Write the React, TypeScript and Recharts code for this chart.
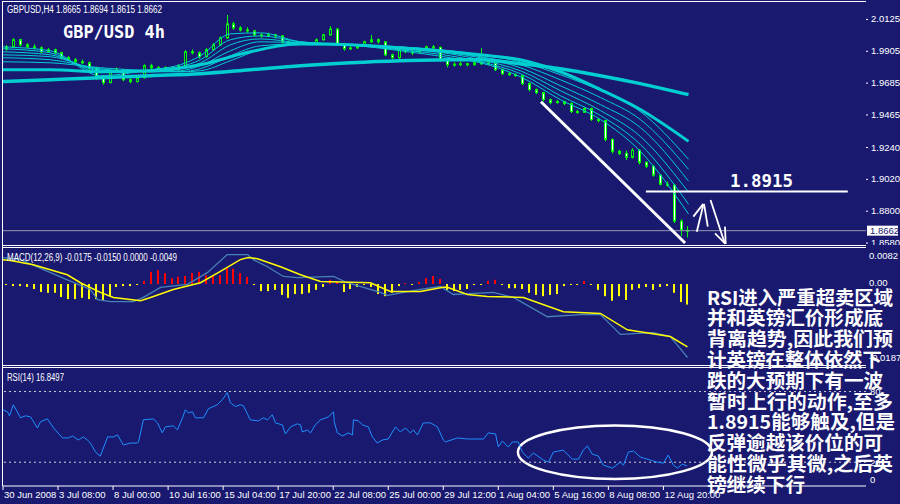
import React from 'react';
import { ComposedChart, Bar, Line, XAxis, YAxis, ReferenceLine, ReferenceArea } from 'recharts';

const BG = '#191970';
const CYAN = '#00ced1';
const FONT_SMALL = "'Liberation Sans Narrow', 'Liberation Sans', Arial, sans-serif";
const X_DOMAIN: [number, number] = [-1, 249.9];

// ---------- price candles (one candle per 2 H4 bars) ----------
const candleOpen = [
  1.9918, 1.9932, 1.9981, 1.9946, 1.9932, 1.9925, 1.9898, 1.9912, 1.9891, 1.9857,
  1.9843, 1.9829, 1.9822, 1.9788, 1.9719, 1.9685, 1.9760, 1.9774, 1.9705, 1.9692,
  1.9719, 1.9802, 1.9788, 1.9781, 1.9788, 1.9774, 1.9802, 1.9898, 1.9891, 1.9864,
  1.9912, 1.9946, 1.9994, 2.0091, 2.0063, 2.0049, 2.0042, 2.0015, 2.0008, 2.0015,
  2.0008, 1.9967, 1.9950, 1.9955, 1.9960, 1.9953, 1.9981, 2.0015, 2.0055, 1.9953,
  1.9919, 1.9925, 1.9939, 1.9967, 1.9981, 1.9967, 1.9877, 1.9857, 1.9912, 1.9890,
  1.9898, 1.9912, 1.9932, 1.9928, 1.9843, 1.9809, 1.9812, 1.9815, 1.9809, 1.9822,
  1.9815, 1.9822, 1.9774, 1.9747, 1.9740, 1.9733, 1.9678, 1.9637, 1.9616, 1.9568,
  1.9547, 1.9554, 1.9540, 1.9485, 1.9480, 1.9506, 1.9430, 1.9423, 1.9292, 1.9210,
  1.9196, 1.9169, 1.9217, 1.9134, 1.9107, 1.9045, 1.8983, 1.8976, 1.8728, 1.8665,
];
const candleHigh = [
  1.9945, 1.9992, 1.9988, 1.9958, 1.9950, 1.9935, 1.9925, 1.9920, 1.9898, 1.9870,
  1.9855, 1.9845, 1.9830, 1.9795, 1.9730, 1.9772, 1.9790, 1.9780, 1.9715, 1.9728,
  1.9812, 1.9815, 1.9800, 1.9798, 1.9795, 1.9812, 1.9910, 1.9915, 1.9900, 1.9925,
  1.9958, 2.0005, 2.0153, 2.0105, 2.0075, 2.0068, 2.0050, 2.0025, 2.0030, 2.0022,
  2.0012, 1.9975, 1.9968, 1.9970, 1.9966, 1.9990, 2.0022, 2.0075, 2.0062, 1.9960,
  1.9935, 1.9948, 1.9975, 2.0015, 1.9990, 1.9972, 1.9885, 1.9920, 1.9918, 1.9910,
  1.9920, 1.9940, 1.9945, 1.9935, 1.9850, 1.9825, 1.9830, 1.9822, 1.9830, 1.9925,
  1.9830, 1.9828, 1.9782, 1.9760, 1.9750, 1.9738, 1.9685, 1.9645, 1.9622, 1.9575,
  1.9565, 1.9560, 1.9548, 1.9495, 1.9515, 1.9512, 1.9440, 1.9428, 1.9300, 1.9222,
  1.9215, 1.9232, 1.9225, 1.9142, 1.9115, 1.9052, 1.9003, 1.8985, 1.8740, 1.8694,
];
const candleLow = [
  1.9905, 1.9925, 1.9935, 1.9925, 1.9915, 1.9888, 1.9890, 1.9880, 1.9845, 1.9835,
  1.9818, 1.9812, 1.9770, 1.9705, 1.9670, 1.9680, 1.9755, 1.9695, 1.9680, 1.9686,
  1.9712, 1.9775, 1.9770, 1.9772, 1.9765, 1.9768, 1.9795, 1.9880, 1.9850, 1.9858,
  1.9905, 1.9940, 1.9988, 2.0050, 2.0038, 2.0030, 2.0005, 1.9995, 2.0000, 1.9990,
  1.9955, 1.9940, 1.9945, 1.9948, 1.9942, 1.9948, 1.9975, 2.0010, 1.9945, 1.9905,
  1.9910, 1.9918, 1.9932, 1.9960, 1.9955, 1.9868, 1.9845, 1.9850, 1.9888, 1.9875,
  1.9890, 1.9905, 1.9918, 1.9830, 1.9790, 1.9795, 1.9800, 1.9798, 1.9802, 1.9808,
  1.9806, 1.9765, 1.9738, 1.9732, 1.9725, 1.9668, 1.9625, 1.9605, 1.9555, 1.9535,
  1.9540, 1.9530, 1.9475, 1.9470, 1.9475, 1.9420, 1.9410, 1.9280, 1.9195, 1.9185,
  1.9150, 1.9160, 1.9120, 1.9095, 1.9035, 1.8975, 1.8965, 1.8715, 1.8625, 1.8615,
];
const candleClose = [
  1.9932, 1.9981, 1.9946, 1.9932, 1.9925, 1.9898, 1.9912, 1.9891, 1.9857, 1.9843,
  1.9829, 1.9822, 1.9788, 1.9719, 1.9685, 1.9760, 1.9774, 1.9705, 1.9692, 1.9719,
  1.9802, 1.9788, 1.9781, 1.9788, 1.9774, 1.9802, 1.9898, 1.9891, 1.9864, 1.9912,
  1.9946, 1.9994, 2.0091, 2.0063, 2.0049, 2.0042, 2.0015, 2.0008, 2.0015, 2.0008,
  1.9967, 1.9953, 1.9955, 1.9960, 1.9953, 1.9981, 2.0015, 2.0055, 1.9953, 1.9919,
  1.9925, 1.9939, 1.9967, 1.9981, 1.9967, 1.9877, 1.9857, 1.9912, 1.9898, 1.9898,
  1.9912, 1.9932, 1.9928, 1.9843, 1.9809, 1.9812, 1.9815, 1.9809, 1.9822, 1.9815,
  1.9822, 1.9774, 1.9747, 1.9740, 1.9733, 1.9678, 1.9637, 1.9616, 1.9568, 1.9547,
  1.9554, 1.9540, 1.9485, 1.9480, 1.9506, 1.9430, 1.9423, 1.9292, 1.9210, 1.9196,
  1.9169, 1.9217, 1.9134, 1.9107, 1.9045, 1.8983, 1.8976, 1.8728, 1.8665, 1.8662,
];

// ---------- MACD histogram (same grid as candles) ----------
const macdHist = [
  -0.0002, -0.0005, -0.0005, -0.0007, -0.0012, -0.0019, -0.0021, -0.0021, -0.0031, -0.0036,
  -0.0036, -0.0033, -0.0036, -0.0036, -0.0038, -0.0029, -0.0007, -0.0005, -0.0005, -0.0002,
  0.0007, 0.0029, 0.0033, 0.0026, 0.0014, 0.0017, 0.0019, 0.0026, 0.0029, 0.0021,
  0.0019, 0.0021, 0.0040, 0.0036, 0.0026, 0.0017, -0.0002, -0.0017, -0.0017, -0.0014,
  -0.0026, -0.0033, -0.0024, -0.0024, -0.0021, -0.0014, -0.0007, 0.0010, 0.0005, -0.0019,
  -0.0012, -0.0007, -0.0002, -0.0007, -0.0024, -0.0029, -0.0021, -0.0005, 0.0002, -0.0002,
  0.0005, 0.0014, 0.0019, 0.0012, -0.0014, -0.0017, -0.0014, -0.0012, -0.0002, -0.0002,
  0.0007, 0.0010, -0.0002, -0.0010, -0.0010, -0.0012, -0.0021, -0.0026, -0.0029, -0.0026,
  -0.0024, -0.0005, -0.0002, -0.0002, 0.0007, -0.0002, -0.0014, -0.0029, -0.0040, -0.0029,
  -0.0038, -0.0014, -0.0010, -0.0007, -0.0014, -0.0007, -0.0005, -0.0021, -0.0043, -0.0049,
];

// ---------- moving averages (bar index, price) ----------
const thinBars = [-1, 12.8, 27.3, 41.9, 50.6, 56.4, 65.1, 73.8, 85.5, 100.0, 114.5, 129.1, 137.8, 149.4, 161.0, 172.7, 184.3, 198.3];
const ma1 = [1.9932, 1.9905, 1.9733, 1.9774, 1.9809, 1.9870, 2.0022, 2.0029, 1.9967, 1.9946, 1.9905, 1.9857, 1.9822, 1.9726, 1.9568, 1.9430, 1.9210, 1.8777];
const ma2 = [1.9919, 1.9891, 1.9754, 1.9767, 1.9795, 1.9843, 1.9981, 2.0008, 1.9967, 1.9946, 1.9912, 1.9870, 1.9829, 1.9747, 1.9595, 1.9458, 1.9258, 1.8845];
const ma3 = [1.9898, 1.9877, 1.9767, 1.9760, 1.9781, 1.9822, 1.9946, 1.9987, 1.9960, 1.9946, 1.9919, 1.9884, 1.9843, 1.9767, 1.9630, 1.9492, 1.9313, 1.8928];
const ma4 = [1.9877, 1.9864, 1.9774, 1.9760, 1.9767, 1.9802, 1.9905, 1.9967, 1.9960, 1.9946, 1.9925, 1.9891, 1.9857, 1.9788, 1.9664, 1.9533, 1.9375, 1.9004];
const ma5 = [1.9857, 1.9843, 1.9781, 1.9760, 1.9760, 1.9781, 1.9870, 1.9939, 1.9953, 1.9946, 1.9932, 1.9898, 1.9864, 1.9809, 1.9705, 1.9582, 1.9430, 1.9086];
const ma6 = [1.9829, 1.9822, 1.9788, 1.9767, 1.9760, 1.9767, 1.9836, 1.9912, 1.9946, 1.9946, 1.9932, 1.9905, 1.9877, 1.9829, 1.9740, 1.9630, 1.9485, 1.9155];
const thickBars = [-1, 12.8, 27.3, 41.9, 56.4, 70.9, 85.5, 100.0, 114.5, 129.1, 137.8, 149.4, 161.0, 172.7, 184.3, 198.3];
const maFast = [1.9774, 1.9774, 1.9760, 1.9767, 1.9809, 1.9898, 1.9953, 1.9946, 1.9925, 1.9898, 1.9877, 1.9843, 1.9760, 1.9637, 1.9499, 1.9279];
const maSlow = [1.9692, 1.9705, 1.9719, 1.9733, 1.9747, 1.9774, 1.9802, 1.9822, 1.9836, 1.9843, 1.9843, 1.9815, 1.9781, 1.9733, 1.9678, 1.9602];

// ---------- MACD lines ----------
const signalBars = [-1, 1.2, 7.8, 17.7, 21.5, 27.3, 31.1, 39.0, 41.9, 48.5, 56.4, 62.2, 68.0, 70.3, 73.0, 79.7, 85.5, 91.3, 105.8, 111.6, 120.3, 127.0, 128.2, 134.0, 139.8, 150.3, 161.9, 172.7, 180.5, 193.0, 198.0];
const signalValues = [0.0058, 0.0056, 0.0046, 0.0022, 0.0003, -0.0020, -0.0032, -0.0040, -0.0032, -0.0013, 0.0003, 0.0030, 0.0058, 0.0063, 0.0060, 0.0041, 0.0022, 0.0006, 0.0003, -0.0018, -0.0018, -0.0008, -0.0008, -0.0025, -0.0030, -0.0032, -0.0066, -0.0070, -0.0109, -0.0125, -0.0150];
const macdBars = [-1, 4.1, 10.8, 17.7, 24.4, 26.5, 30.2, 36.9, 39.8, 44.8, 52.6, 58.4, 64.2, 70.1, 71.8, 75.9, 80.5, 84.6, 95.1, 99.1, 108.7, 110.8, 120.3, 126.2, 129.9, 141.6, 147.4, 157.3, 166.9, 172.7, 178.5, 188.1, 193.0, 195.9, 198.0];
const macdValues = [0.0063, 0.0058, 0.0034, 0.0010, -0.0013, -0.0037, -0.0042, -0.0042, -0.0032, -0.0008, -0.0001, 0.0027, 0.0070, 0.0070, 0.0058, 0.0041, 0.0018, 0.0015, 0.0018, 0.0003, -0.0020, -0.0027, -0.0013, -0.0006, -0.0025, -0.0020, -0.0032, -0.0078, -0.0073, -0.0073, -0.0120, -0.0116, -0.0125, -0.0154, -0.0175];

// ---------- RSI(14) ----------
const rsiBars = [
  -1, 0.3, 0.9, 2.0, 4.1, 5.5, 7.0, 9.0, 9.9, 11.9,
  13.7, 16.3, 18.0, 19.2, 20.9, 22.4, 23.5, 24.4, 25.9, 27.3,
  29.4, 31.1, 32.3, 34.0, 36.0, 38.1, 38.4, 39.8, 42.7, 43.9,
  45.3, 46.2, 48.5, 49.7, 51.2, 52.0, 52.9, 54.1, 54.9, 57.3,
  58.7, 61.3, 62.8, 64.2, 65.1, 66.6, 68.0, 68.9, 70.9, 73.3,
  74.7, 75.9, 77.3, 78.2, 80.2, 81.1, 82.6, 84.6, 85.5, 86.0,
  87.5, 88.4, 89.8, 91.3, 93.6, 95.1, 95.3, 96.2, 97.7, 99.4,
  100.6, 100.9, 102.3, 103.5, 105.2, 106.4, 107.8, 109.3, 111.0, 113.1,
  114.5, 116.0, 117.4, 118.3, 119.5, 119.8, 121.2, 123.3, 125.3, 127.0,
  127.6, 131.1, 134.0, 138.7, 140.1, 142.2, 143.0, 144.2, 145.9, 147.1,
  148.8, 150.0, 151.7, 153.2, 156.1, 157.6, 159.0, 161.9, 164.5, 166.3,
  167.7, 168.9, 170.3, 172.1, 173.5, 176.2, 178.5, 179.4, 180.8, 182.3,
  184.3, 187.2, 189.2, 191.0, 192.4, 193.9, 195.1, 196.5, 197.9,
];
const rsiValues = [
  64.5, 62.8, 59.4, 68.8, 57.7, 59.4, 58.5, 49.1, 54.3, 56.8,
  49.1, 40.6, 40.6, 42.3, 38.9, 41.5, 38.9, 36.3, 28.6, 25.2,
  41.5, 41.5, 43.2, 34.6, 36.3, 36.3, 37.2, 56.0, 56.8, 53.4,
  44.9, 50.0, 50.9, 47.4, 57.7, 64.5, 62.0, 62.8, 57.7, 57.7,
  65.4, 68.8, 73.1, 79.1, 70.5, 67.3, 68.8, 67.9, 56.0, 55.1,
  57.7, 56.0, 60.3, 53.4, 51.7, 44.0, 50.0, 52.6, 51.7, 45.7,
  47.4, 44.9, 51.7, 56.0, 58.5, 62.8, 54.3, 44.9, 42.3, 44.9,
  43.2, 56.0, 55.1, 51.7, 50.0, 41.5, 36.3, 38.9, 39.7, 50.0,
  45.7, 49.1, 44.9, 47.4, 43.2, 44.9, 53.4, 53.4, 50.0, 38.9,
  37.2, 40.6, 39.7, 39.7, 44.9, 44.0, 32.9, 38.0, 32.9, 37.2,
  37.2, 28.6, 23.5, 27.8, 21.8, 20.1, 28.6, 30.3, 22.6, 22.6,
  30.3, 33.8, 26.9, 25.2, 17.5, 15.0, 20.1, 17.5, 28.6, 29.5,
  24.4, 21.8, 20.1, 19.2, 26.1, 17.5, 15.0, 18.4, 16.8,
];

// ---------- axes ----------
const priceTicks = [2.0125, 1.9905, 1.9685, 1.9465, 1.9240, 1.9020, 1.8800, 1.8662, 1.8580];
const currentPrice = 1.8662;
const macdTicks = [0.0082, 0, -0.0187];
const rsiTicks = [80, 20, 0];
const rsiLevels = [80, 20];
const timeTicks = [-1, 15, 31, 47, 63, 79, 95, 111, 127, 143, 159, 175, 191];
const timeLabels = ['30 Jun 2008', '3 Jul 08:00', '8 Jul 00:00', '10 Jul 16:00', '15 Jul 04:00', '17 Jul 20:00', '22 Jul 08:00', '25 Jul 00:00', '29 Jul 12:00', '1 Aug 04:00', '5 Aug 16:00', '8 Aug 08:00', '12 Aug 20:00'];

// ---------- hand-drawn annotations (data coordinates) ----------
const trendLine = [{ b: 155.4, p: 1.9553 }, { b: 197.3, p: 1.8577 }];
const resistance = { b1: 185.9, b2: 244.6, p: 1.8932 };
const arrowSegments = [
  [{ b: 200.7, p: 1.8655 }, { b: 202.6, p: 1.8840 }],
  [{ b: 199.7, p: 1.8759 }, { b: 202.6, p: 1.8847 }],
  [{ b: 202.8, p: 1.8847 }, { b: 203.9, p: 1.8690 }],
  [{ b: 204.7, p: 1.8874 }, { b: 208.9, p: 1.8570 }],
  [{ b: 206.0, p: 1.8644 }, { b: 208.9, p: 1.8575 }],
  [{ b: 208.9, p: 1.8690 }, { b: 209.1, p: 1.8570 }],
];
const rsiEllipse = { b1: 148.7, b2: 205.1, v1: 5.8, v2: 51.2 };

const noteLines = [
  'RSI进入严重超卖区域',
  '并和英镑汇价形成底',
  '背离趋势,因此我们预',
  '计英镑在整体依然下',
  '跌的大预期下有一波',
  '暂时上行的动作,至多',
  '1.8915能够触及,但是',
  '反弹逾越该价位的可',
  '能性微乎其微,之后英',
  '镑继续下行',
];
const noteWidths = [186, 176, 186, 175, 176, 186, 188, 176, 186, 98];

// ---------- tables built from the arrays ----------
const candles = candleOpen.map((o, i) => ({
  b: i * 2,
  o,
  h: candleHigh[i],
  l: candleLow[i],
  c: candleClose[i],
  range: [candleLow[i], candleHigh[i]],
  hist: macdHist[i],
}));
const series = (bars: number[], vals: number[]) => bars.map((b, i) => ({ b, v: vals[i] }));
const thinLines = [ma1, ma2, ma3, ma4, ma5, ma6].map((m) => series(thinBars, m));
const fastData = series(thickBars, maFast);
const slowData = series(thickBars, maSlow);
const signalData = series(signalBars, signalValues);
const macdData = series(macdBars, macdValues);
const rsiData = series(rsiBars, rsiValues);

const Candle = (props: any) => {
  const { x, y, width, height, payload } = props;
  if (!payload || x == null || y == null) return null;
  const top = Math.min(y, y + height);
  const h = Math.abs(height);
  const cx = Math.round(x + width / 2) + 0.5;
  const span = payload.h - payload.l;
  const k = span > 0 ? h / span : 0;
  const bodyTop = top + (payload.h - Math.max(payload.o, payload.c)) * k;
  const bodyBot = top + (payload.h - Math.min(payload.o, payload.c)) * k;
  const bear = payload.c < payload.o;
  return (
    <g>
      <line x1={cx} x2={cx} y1={top} y2={top + h} stroke="#00ff00" strokeWidth={1} />
      <rect x={cx - 1} y={bodyTop} width={2} height={Math.max(1, bodyBot - bodyTop)} fill={bear ? '#ffffff' : BG} stroke="#00ff00" strokeWidth={1} />
    </g>
  );
};

const HistBar = (props: any) => {
  const { x, y, width, height, payload } = props;
  if (!payload || x == null || y == null) return null;
  const top = Math.min(y, y + height);
  const h = Math.max(1, Math.abs(height));
  const left = Math.round(x + width / 2) - 1;
  return <rect x={left} y={top} width={2} height={h} fill={payload.hist > 0 ? '#ff0000' : '#ffff00'} />;
};

const PriceTick = (props: any) => {
  const { x, y, payload } = props;
  const v = payload.value as number;
  if (v === currentPrice) {
    return (
      <g>
        <rect x={x + 1} y={y - 5} width={31} height={10} fill="#ffffff" />
        <text x={x + 4} y={y} dominantBaseline="central" fontSize={9.5} fontFamily={FONT_SMALL} fill={BG}>{v.toFixed(4)}</text>
      </g>
    );
  }
  return (
    <g>
      <line x1={x} x2={x + 2} y1={y + 0.5} y2={y + 0.5} stroke="#ffffff" />
      <text x={x + 5} y={y} dominantBaseline="central" fontSize={9.5} fontFamily={FONT_SMALL} fill="#ffffff">{v.toFixed(4)}</text>
    </g>
  );
};

const MacdTick = (props: any) => {
  const { x, y, payload } = props;
  const v = payload.value as number;
  const dy = v > 0 ? 6 : v < 0 ? -5 : -1;
  const label = v === 0 ? '0.00' : v.toFixed(4);
  return (
    <text x={x + 3} y={y + dy} dominantBaseline="central" fontSize={9.5} fontFamily={FONT_SMALL} fill="#ffffff">{label}</text>
  );
};

const RsiTick = (props: any) => {
  const { x, y, payload } = props;
  const v = payload.value as number;
  const dy = v === 0 ? -6 : 0;
  return (
    <text x={x + 4} y={y + dy} dominantBaseline="central" fontSize={9.5} fontFamily={FONT_SMALL} fill="#ffffff">{String(v)}</text>
  );
};

const TimeTick = (props: any) => {
  const { x, y, payload } = props;
  const idx = timeTicks.indexOf(payload.value);
  return (
    <text x={x + 1} y={y + 4.5} dominantBaseline="central" fontSize={9.5} fontFamily={FONT_SMALL} fill="#ffffff">{timeLabels[idx] ?? ''}</text>
  );
};

const EllipseShape = (props: any) => {
  const { x, y, width, height } = props;
  return <ellipse cx={x + width / 2} cy={y + height / 2} rx={Math.abs(width) / 2} ry={Math.abs(height) / 2} fill="none" stroke="#ffffff" strokeWidth={2.5} />;
};

const svgVisible = { overflow: 'visible' as const };

export default function App() {
  return (
    <div style={{ position: 'absolute', left: 0, top: 0, width: 900, height: 504, background: BG, overflow: 'hidden' }}>
      {/* Main price chart */}
      <div style={{ position: 'absolute', left: 0, top: 1 }}>
        <ComposedChart width={900} height={244} data={candles} margin={{ top: 0, right: 0, bottom: 0, left: 3 }} style={svgVisible}>
          <XAxis type="number" dataKey="b" domain={X_DOMAIN} allowDataOverflow hide />
          <YAxis orientation="right" width={34} type="number" domain={[1.8563, 2.0249]} allowDataOverflow ticks={priceTicks} interval={0} tick={<PriceTick />} tickSize={0} tickMargin={0} axisLine={false} tickLine={false} />
          <ReferenceLine y={currentPrice} stroke="#9898b0" strokeWidth={1} />
          <Bar dataKey="range" barSize={4} isAnimationActive={false} shape={(p: any) => <Candle {...p} />} />
          <Line data={slowData} dataKey="v" type="monotone" stroke={CYAN} strokeWidth={3.5} dot={false} isAnimationActive={false} />
          <Line data={fastData} dataKey="v" type="monotone" stroke={CYAN} strokeWidth={3} dot={false} isAnimationActive={false} />
          {thinLines.map((d, i) => (
            <Line key={i} data={d} dataKey="v" type="monotone" stroke={CYAN} strokeWidth={1} dot={false} isAnimationActive={false} />
          ))}
          <ReferenceLine segment={[{ x: trendLine[0].b, y: trendLine[0].p }, { x: trendLine[1].b, y: trendLine[1].p }]} stroke="#ffffff" strokeWidth={3} ifOverflow="visible" />
          <ReferenceLine segment={[{ x: resistance.b1, y: resistance.p }, { x: resistance.b2, y: resistance.p }]} stroke="#ffffff" strokeWidth={2} ifOverflow="visible" />
          {arrowSegments.map((s, i) => (
            <ReferenceLine key={i} segment={[{ x: s[0].b, y: s[0].p }, { x: s[1].b, y: s[1].p }]} stroke="#ffffff" strokeWidth={1.8} ifOverflow="visible" />
          ))}
        </ComposedChart>
      </div>

      {/* MACD */}
      <div style={{ position: 'absolute', left: 0, top: 248 }}>
        <ComposedChart width={900} height={117} data={candles} margin={{ top: 0, right: 0, bottom: 0, left: 3 }} style={svgVisible}>
          <XAxis type="number" dataKey="b" domain={X_DOMAIN} allowDataOverflow hide />
          <YAxis orientation="right" width={34} type="number" domain={[-0.01929, 0.00857]} allowDataOverflow ticks={macdTicks} interval={0} tick={<MacdTick />} tickSize={0} tickMargin={0} axisLine={false} tickLine={false} />
          <Bar dataKey="hist" barSize={2} isAnimationActive={false} shape={(p: any) => <HistBar {...p} />} />
          <Line data={macdData} dataKey="v" type="linear" stroke="#4682b4" strokeWidth={1.3} dot={false} isAnimationActive={false} />
          <Line data={signalData} dataKey="v" type="linear" stroke="#ffff00" strokeWidth={1.5} dot={false} isAnimationActive={false} />
        </ComposedChart>
      </div>

      {/* RSI */}
      <div style={{ position: 'absolute', left: 0, top: 367 }}>
        <ComposedChart width={900} height={137} data={rsiData} margin={{ top: 0, right: 0, bottom: 0, left: 3 }} style={svgVisible}>
          <XAxis type="number" dataKey="b" domain={X_DOMAIN} allowDataOverflow ticks={timeTicks} interval={0} tick={<TimeTick />} tickSize={4} tickMargin={0} height={18} axisLine={{ stroke: '#ffffff' }} tickLine={{ stroke: '#ffffff' }} />
          <YAxis orientation="right" width={34} type="number" domain={[-0.2, 100.85]} allowDataOverflow ticks={rsiTicks} interval={0} tick={<RsiTick />} tickSize={0} tickMargin={0} axisLine={false} tickLine={false} />
          {rsiLevels.map((lv) => (
            <ReferenceLine key={lv} y={lv} stroke="#d0d0d0" strokeDasharray="2 3" />
          ))}
          <Line dataKey="v" type="linear" stroke="#1e90ff" strokeWidth={1} dot={false} isAnimationActive={false} />
          <ReferenceArea x1={rsiEllipse.b1} x2={rsiEllipse.b2} y1={rsiEllipse.v1} y2={rsiEllipse.v2} ifOverflow="visible" shape={(p: any) => <EllipseShape {...p} />} />
        </ComposedChart>
      </div>

      {/* frames and captions */}
      <svg width={900} height={504} style={{ position: 'absolute', left: 0, top: 0, pointerEvents: 'none' }}>
        <g stroke="#ffffff" strokeWidth={1}>
          <line x1={2} x2={866} y1={1.5} y2={1.5} />
          <line x1={2} x2={866} y1={245.5} y2={245.5} />
          <line x1={2} x2={866} y1={247.5} y2={247.5} />
          <line x1={2} x2={866} y1={365.5} y2={365.5} />
          <line x1={2} x2={866} y1={367.5} y2={367.5} />
          <line x1={2.5} x2={2.5} y1={1} y2={486} />
        </g>
        <text x={7} y={9.5} dominantBaseline="central" fontSize={10} fontFamily={FONT_SMALL} fill="#ffffff" textLength={155} lengthAdjust="spacingAndGlyphs">GBPUSD,H4  1.8665 1.8694 1.8615 1.8662</text>
        <text x={63} y={32} dominantBaseline="central" fontSize={17} fontWeight="bold" fontFamily="'DejaVu Sans Mono', monospace" fill="#ffffff" textLength={102} lengthAdjust="spacingAndGlyphs">GBP/USD 4h</text>
        <text x={730} y={180} dominantBaseline="central" fontSize={18} fontWeight="bold" fontFamily="'DejaVu Sans Mono', monospace" fill="#ffffff" textLength={63} lengthAdjust="spacingAndGlyphs">1.8915</text>
        <text x={7} y={257} dominantBaseline="central" fontSize={10} fontFamily={FONT_SMALL} fill="#ffffff" textLength={170} lengthAdjust="spacingAndGlyphs">MACD(12,26,9) -0.0175 -0.0150 0.0000 -0.0049</text>
        <text x={7} y={377} dominantBaseline="central" fontSize={10} fontFamily={FONT_SMALL} fill="#ffffff" textLength={57} lengthAdjust="spacingAndGlyphs">RSI(14) 16.8497</text>
        {noteLines.map((t, i) => (
          <text key={i} x={707} y={296 + i * 20.8} dominantBaseline="central" fontSize={19} fontWeight="bold" fontFamily="'Noto Sans CJK SC', sans-serif" fill="#ffffff" textLength={noteWidths[i]} lengthAdjust="spacingAndGlyphs">{t}</text>
        ))}
      </svg>
    </div>
  );
}
